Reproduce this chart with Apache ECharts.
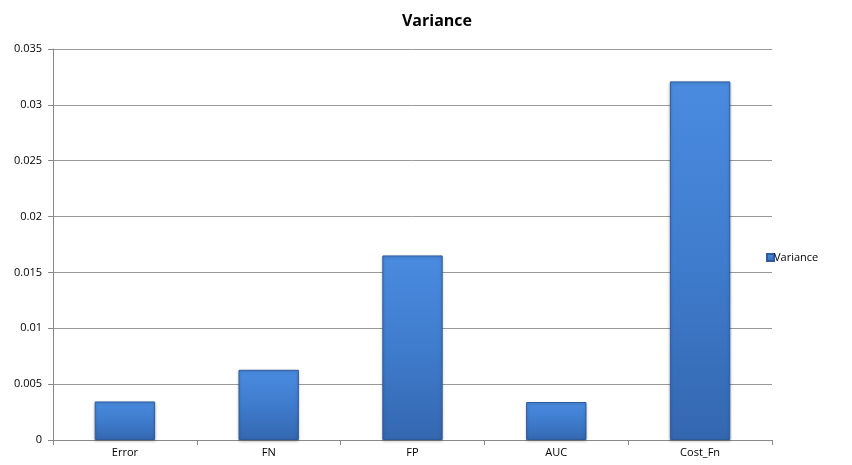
<!DOCTYPE html>
<html>
<head>
<meta charset="utf-8">
<script src="https://cdn.jsdelivr.net/npm/echarts@6/dist/echarts.min.js"></script>
<style>html,body{margin:0;padding:0;background:#fff;}#c{width:852px;height:465px;}</style>
</head>
<body>
<div id="c"></div>
<script>
const categories = ["Error", "FN", "FP", "AUC", "Cost_Fn"];
const varianceValues = [0.00345, 0.00628, 0.01652, 0.0034, 0.0321];
const yTicks = [0, 0.005, 0.01, 0.015, 0.02, 0.025, 0.03, 0.035];

const chart = echarts.init(document.getElementById('c'), null, {renderer: 'canvas'});
const font = "'Open Sans', 'Liberation Sans', sans-serif";
chart.setOption({
  animation: false,
  backgroundColor: '#ffffff',
  title: {
    text: 'Variance', left: 432, top: 8, textAlign: 'center',
    textStyle: {fontFamily: font, fontSize: 16, fontWeight: 'bold', color: '#000'}
  },
  legend: {
    data: ['Variance'], left: 761, top: 247, orient: 'vertical',
    itemWidth: 7, itemHeight: 7, itemGap: 2,
    icon: 'rect',
    textStyle: {fontFamily: font, fontSize: 11, color: '#000', padding: [0,0,0,-5]}
  },
  grid: {left: 53, right: 80, top: 49, bottom: 25, containLabel: false},
  xAxis: {
    type: 'category', data: categories,
    axisLine: {lineStyle: {color: '#888', width: 1}},
    axisTick: {show: true, length: 5, lineStyle: {color: '#888'}},
    axisLabel: {fontFamily: font, fontSize: 11, color: '#000', margin: 7},
    splitLine: {show: false}
  },
  yAxis: {
    type: 'value', min: 0, max: 0.035, interval: 0.005,
    axisLine: {show: true, lineStyle: {color: '#888', width: 1}},
    axisTick: {show: true, length: 5, lineStyle: {color: '#888'}},
    axisLabel: {fontFamily: font, fontSize: 11, color: '#000', margin: 11,
      formatter: v => { const t = yTicks.find(x => Math.abs(x - v) < 1e-9); return String(t !== undefined ? t : v); }},
    splitLine: {show: true, lineStyle: {color: '#999', width: 1}}
  },
  series: [{
    name: 'Variance', type: 'bar', data: varianceValues,
    barWidth: '42%',
    itemStyle: {
      color: new echarts.graphic.LinearGradient(0, 0, 0, 1, [
        {offset: 0, color: '#4a8be0'},
        {offset: 0.5, color: '#3f7ccd'},
        {offset: 1, color: '#3467b0'}
      ]),
      borderColor: '#2d5c9c', borderWidth: 1,
      shadowColor: 'rgba(0,0,0,0.25)', shadowBlur: 3, shadowOffsetY: 1
    }
  }]
});
</script>
</body>
</html>
